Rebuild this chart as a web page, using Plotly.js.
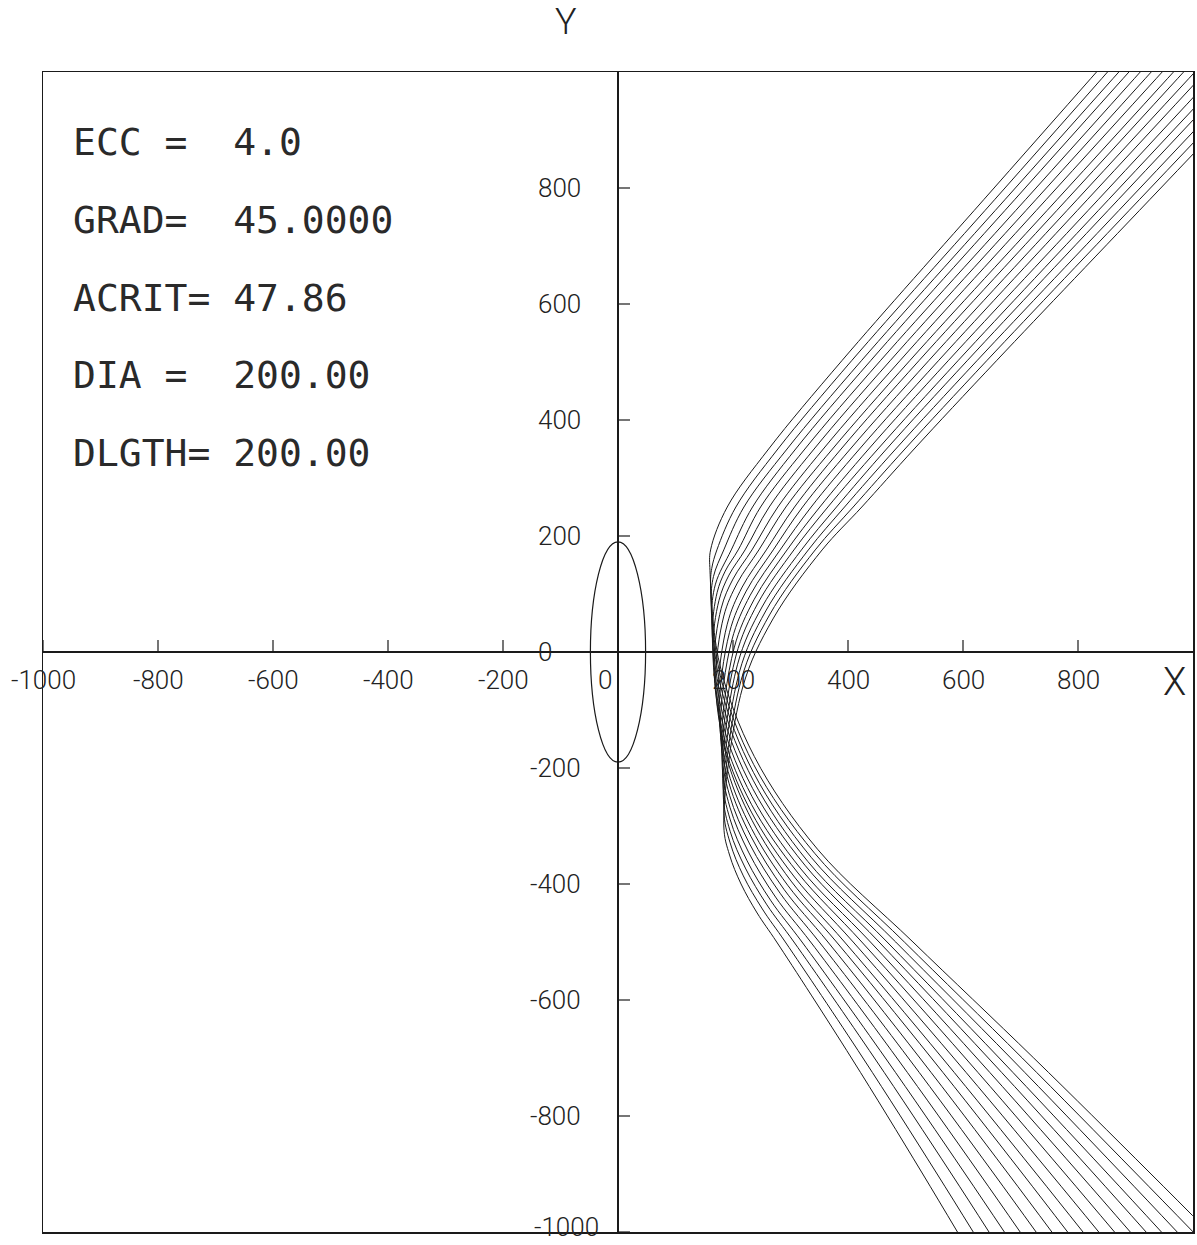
<!DOCTYPE html>
<html>
<head>
<meta charset="utf-8">
<script src="https://cdn.plot.ly/plotly-3.0.1.min.js"></script>
<style>html,body{margin:0;padding:0;background:#fff;}#chart{width:1197px;height:1245px;}</style>
</head>
<body>
<div id="chart"></div>
<script>
// ---- tick values / labels ----
const xTickVals = [-1000, -800, -600, -400, -200, 0, 200, 400, 600, 800];
const xTickText = ['-1000', '-800', '-600', '-400', '-200', '0', '200', '400', '600', '800'];
const yTickVals = [800, 600, 400, 200, 0, -200, -400, -600, -800, -1000];
const yTickText = ['800', '600', '400', '200', '0', '-200', '-400', '-600', '-800', '-1000'];

// ---- parameter text block ----
const infoLines = ['ECC =  4.0', 'GRAD=  45.0000', 'ACRIT= 47.86', 'DIA =  200.00', 'DLGTH= 200.00'];

// ---- ellipse (obstacle) ----
const ellipseX = [-48, 48];
const ellipseY = [-190, 190];

// ---- trajectories ----
const c00x = [966, 654, 390, 262, 190, 161, 160, 176.6, 237, 347, 513, 723, 927, 1178];
const c00y = [1150, 800, 503, 350, 250, 176, 140, -20, -180, -340, -500, -700, -900, -1150];
const c01x = [985, 673, 407, 278, 205, 172, 163, 161, 178, 236, 342, 498, 703, 902, 1147];
const c01y = [1150, 800, 503, 350, 250, 176, 144, 112.5, -41, -194, -347, -500, -700, -900, -1150];
const c02x = [1006, 691, 424, 294, 219, 184, 166, 162, 179, 235.5, 336, 483, 683, 877, 1115];
const c02y = [1150, 800, 503, 350, 250, 176, 130, 85, -61, -207.5, -354, -500, -700, -900, -1150];
const c03x = [1024, 708, 440, 309, 234, 197, 169.5, 163, 180, 235, 330, 468, 663, 852, 1084];
const c03y = [1150, 800, 503, 350, 250, 176, 117, 57.5, -82, -221, -361, -500, -700, -900, -1150];
const c04x = [1044, 727, 457, 325, 248, 209, 186.5, 172.5, 164, 181, 234, 325, 454, 644, 828, 1053];
const c04y = [1150, 800, 503, 350, 250, 176, 139.5, 103, 30, -102.5, -235, -367.5, -500, -700, -900, -1150];
const c05x = [1064, 745, 474, 341, 263, 221, 193, 175.6, 165, 182, 233, 318, 439, 624, 803, 1022];
const c05y = [1150, 800, 503, 350, 250, 176, 132.6, 89, 2.5, -123, -249, -374, -500, -700, -900, -1150];
const c06x = [1084, 763, 491, 357, 278, 233, 200, 179.5, 167, 183.7, 232, 313, 424, 604, 778, 991];
const c06y = [1150, 800, 503, 350, 250, 176, 125.8, 75.5, -25, -144, -262.5, -381, -500, -700, -900, -1150];
const c07x = [1104, 782, 508, 373, 292, 245, 207.5, 184, 170, 186, 232, 307, 409, 584, 753, 960];
const c07y = [1150, 800, 503, 350, 250, 176, 118.9, 62, -52.5, -164, -276, -388, -500, -700, -900, -1150];
const c08x = [1122, 799, 524, 388, 307, 258, 216, 190, 174, 190, 233, 301, 394, 564, 728, 929];
const c08y = [1150, 800, 503, 350, 250, 176, 112, 48, -80, -185, -290, -395, -500, -700, -900, -1150];
const c09x = [1143, 817, 541, 404, 321, 270, 223, 194, 176, 191.5, 232, 295, 380, 545, 704, 898];
const c09y = [1150, 800, 503, 350, 250, 176, 105, 34, -107.5, -206, -304, -402, -500, -700, -900, -1150];
const c10x = [1162, 835, 558, 420, 336, 282, 230, 198, 178, 193, 231, 288.5, 365, 525, 679, 867];
const c10y = [1150, 800, 503, 350, 250, 176, 98, 20.5, -135, -226, -317.5, -409, -500, -700, -900, -1150];
const c11x = [1182, 854, 575, 436, 351, 294, 237, 202, 180, 194, 229, 282, 350, 505, 654, 836];
const c11y = [1150, 800, 503, 350, 250, 176, 91, 7, -162.5, -247, -331, -416, -500, -700, -900, -1150];
const c12x = [1202, 872, 592, 452, 365, 306, 243.5, 205, 181, 194.6, 227, 274, 335, 485, 629, 804];
const c12y = [1150, 800, 503, 350, 250, 176, 84.5, -7, -190, -267.5, -345, -422.5, -500, -700, -900, -1150];
const c13x = [1221, 889, 608, 467, 380, 319, 250.5, 208, 182, 194.8, 224, 266, 320, 465, 604, 773];
const c13y = [1150, 800, 503, 350, 250, 176, 77.6, -21, -217.5, -288, -359, -429, -500, -700, -900, -1150];
const c14x = [1241, 908, 625, 483, 394, 331, 257, 211, 183, 195, 221.5, 259, 306, 446, 580, 742];
const c14y = [1150, 800, 503, 350, 250, 176, 70.8, -35, -245, -309, -372.5, -436, -500, -700, -900, -1150];
const c15x = [1261, 926, 642, 499, 409, 343, 263.5, 214, 184, 195, 218, 251, 291, 426, 555, 711];
const c15y = [1150, 800, 503, 350, 250, 176, 63.9, -49, -272.5, -329, -386, -443, -500, -700, -900, -1150];
const c16x = [1280, 944, 659, 515, 424, 355, 269.5, 216.5, 184, 194, 214, 242, 276, 406, 530, 680];
const c16y = [1150, 800, 503, 350, 250, 176, 57, -62, -300, -350, -400, -450, -500, -700, -900, -1150];

const curves = [
  [c00x, c00y], [c01x, c01y], [c02x, c02y], [c03x, c03y], [c04x, c04y], [c05x, c05y],
  [c06x, c06y], [c07x, c07y], [c08x, c08y], [c09x, c09y], [c10x, c10y], [c11x, c11y],
  [c12x, c12y], [c13x, c13y], [c14x, c14y], [c15x, c15y], [c16x, c16y]
];

const MONO = 'DejaVu Sans Mono, Liberation Mono, monospace';
const SANS = 'Roboto, Noto Sans, DejaVu Sans, sans-serif';
const INK = '#1a1a1a';

const traces = curves.map(function (c) {
  return {
    type: 'scatter', mode: 'lines', x: c[0], y: c[1],
    line: {color: INK, width: 1, shape: 'spline', smoothing: 1},
    hoverinfo: 'skip', showlegend: false
  };
});

const shapes = [];
// ellipse
shapes.push({type: 'circle', xref: 'x', yref: 'y', x0: ellipseX[0], x1: ellipseX[1], y0: ellipseY[0], y1: ellipseY[1],
  line: {color: INK, width: 1.2}});
// x ticks pointing up from the x axis
xTickVals.forEach(function (v) {
  shapes.push({type: 'line', xref: 'x', yref: 'y', x0: v, x1: v, ysizemode: 'pixel', yanchor: 0, y0: 0, y1: 12,
    line: {color: INK, width: 1.2}});
});
// y ticks pointing right from the y axis
yTickVals.forEach(function (v) {
  shapes.push({type: 'line', xref: 'x', yref: 'y', y0: v, y1: v, xsizemode: 'pixel', xanchor: 0, x0: 0, x1: 12,
    line: {color: INK, width: 1.2}});
});

const tickFont = {family: SANS, size: 26, color: '#222', weight: 300};
const annotations = [];
xTickVals.forEach(function (v, i) {
  annotations.push({x: v, y: 0, xref: 'x', yref: 'y', text: xTickText[i], showarrow: false,
    xanchor: 'center', yanchor: 'middle', yshift: -28, xshift: (v === 0 ? -13 : 0), font: tickFont});
});
yTickVals.forEach(function (v, i) {
  let sh = -35, vs = 0;
  if (v === 0) sh = -64;
  if (v === -1000) { sh = -17; vs = 5; }
  annotations.push({x: 0, y: v, xref: 'x', yref: 'y', text: yTickText[i], showarrow: false,
    xanchor: 'right', yanchor: 'middle', xshift: sh, yshift: vs, font: tickFont});
});
// info block
const infoTop = 879, infoStep = 134;
infoLines.forEach(function (t, i) {
  annotations.push({x: -952, y: infoTop - i * infoStep, xref: 'x', yref: 'y', xanchor: 'left', yanchor: 'middle',
    text: t.replace(/ /g, '\u00a0'), showarrow: false, font: {family: MONO, size: 38, color: '#2a2a2a'}});
});
// axis names
annotations.push({x: -90, y: 1.043, xref: 'x', yref: 'paper', text: 'Y', showarrow: false,
  xanchor: 'center', yanchor: 'middle', font: {family: SANS, size: 36, color: '#222', weight: 300}});
annotations.push({x: 967, y: -52, xref: 'x', yref: 'y', text: 'X', showarrow: false,
  xanchor: 'center', yanchor: 'middle', font: {family: SANS, size: 38, color: '#222', weight: 300}});

const layout = {
  width: 1197, height: 1245,
  margin: {l: 43, r: 4, t: 72, b: 13, pad: 0},
  paper_bgcolor: '#ffffff', plot_bgcolor: '#ffffff',
  showlegend: false,
  xaxis: {range: [-1000, 1000], showgrid: false, showticklabels: false, ticks: '',
    zeroline: true, zerolinecolor: INK, zerolinewidth: 1.5,
    showline: true, mirror: true, linecolor: INK, linewidth: 1.5, fixedrange: true},
  yaxis: {range: [-1000, 1000], showgrid: false, showticklabels: false, ticks: '',
    zeroline: true, zerolinecolor: INK, zerolinewidth: 1.5,
    showline: true, mirror: true, linecolor: INK, linewidth: 1.5, fixedrange: true},
  shapes: shapes,
  annotations: annotations
};

Plotly.newPlot('chart', traces, layout, {staticPlot: true, displayModeBar: false});
</script>
</body>
</html>
